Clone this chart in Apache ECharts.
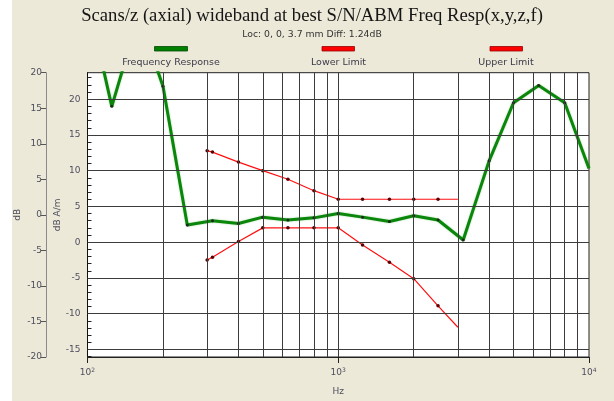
<!DOCTYPE html>
<html>
<head>
<meta charset="utf-8">
<script src="https://cdn.jsdelivr.net/npm/echarts@6/dist/echarts.min.js"></script>
<style>
  html, body { margin: 0; padding: 0; background: #ffffff; }
  #chart { width: 614px; height: 401px; }
</style>
</head>
<body>
<div id="chart"></div>
<script>
// frequency response (dB A/m)
var respFreqs = [100, 125, 160, 200, 250, 315, 400, 500, 630, 800, 1000, 1250, 1600, 2000, 2500, 3150, 4000, 5000, 6300, 8000, 10000];
var respValues = [34, 19.0, 31.7, 21.8, 2.4, 3.0, 2.6, 3.5, 3.1, 3.4, 4.0, 3.5, 2.9, 3.7, 3.1, 0.3, 11.4, 19.5, 21.9, 19.5, 10.3];

// limit curves
var limitFreqs = [300, 315, 400, 500, 630, 800, 1000, 1250, 1600, 2000, 2500, 3000];
var upperValues = [12.8, 12.6, 11.2, 10.0, 8.8, 7.2, 6, 6, 6, 6, 6, 6];
var lowerValues = [-2.5, -2.1, 0.1, 2, 2, 2, 2, -0.4, -2.8, -5.1, -8.9, -11.9];

// axis ticks / grid
var innerLabels = [-15, -10, -5, 0, 5, 10, 15, 20];
var innerMinor = [-16, -15, -14, -13, -12, -11, -10, -9, -8, -7, -6, -5, -4, -3, -2, -1, 0,
  1, 2, 3, 4, 5, 6, 7, 8, 9, 10, 11, 12, 13, 14, 15, 16, 17, 18, 19, 20, 21, 22, 23];
var freqGrid = [200, 300, 400, 500, 600, 700, 800, 900, 1000, 2000, 3000, 4000, 5000, 6000, 7000, 8000, 9000];

var pairs = function (xs, ys, lastNoDot) {
  var res = [];
  for (var i = 0; i < xs.length; i++) {
    var item = { value: [xs[i], ys[i]] };
    if (lastNoDot && i === xs.length - 1) item.symbol = 'none';
    res.push(item);
  }
  return res;
};

var gridColor = '#3c3c3c';
var labelColor = '#4e4e5e';
var font = 'DejaVu Sans';

var chart = echarts.init(document.getElementById('chart'));
var option = {
  backgroundColor: '#ffffff',
  animation: false,
  title: {
    text: 'Scans/z (axial) wideband at best S/N/ABM Freq Resp(x,y,z,f)',
    subtext: 'Loc: 0, 0, 3.7 mm Diff: 1.24dB',
    left: 307,
    textAlign: 'center',
    top: 2,
    itemGap: 4,
    textStyle: { fontFamily: 'Liberation Serif', fontSize: 18.7, fontWeight: 'normal', color: '#151515' },
    subtextStyle: { fontFamily: font, fontSize: 9.3, color: '#333' }
  },
  graphic: [
    { type: 'rect', z: -10, shape: { x: 12, y: 0, width: 602, height: 401 }, style: { fill: '#ece9d8' } },
    { type: 'rect', shape: { x: 154.5, y: 46.5, width: 33, height: 4.5 }, style: { fill: '#008000', stroke: '#004a00', lineWidth: 0.8 } },
    { type: 'text', x: 171, y: 62.5, style: { text: 'Frequency Response', fontFamily: font, fontSize: 9.5, fill: '#3a3a4a', align: 'center', verticalAlign: 'middle' } },
    { type: 'rect', shape: { x: 322, y: 46.5, width: 32.5, height: 4.5 }, style: { fill: '#ff0000', stroke: '#9a0000', lineWidth: 0.8 } },
    { type: 'text', x: 338.5, y: 62.5, style: { text: 'Lower Limit', fontFamily: font, fontSize: 9.5, fill: '#3a3a4a', align: 'center', verticalAlign: 'middle' } },
    { type: 'rect', shape: { x: 490, y: 46.5, width: 32.5, height: 4.5 }, style: { fill: '#ff0000', stroke: '#9a0000', lineWidth: 0.8 } },
    { type: 'text', x: 506, y: 62.5, style: { text: 'Upper Limit', fontFamily: font, fontSize: 9.5, fill: '#3a3a4a', align: 'center', verticalAlign: 'middle' } }
  ],
  grid: {
    left: 87.5, right: 25, top: 72.7, bottom: 33.7,
    show: true, backgroundColor: '#ffffff', borderColor: '#222', borderWidth: 1
  },
  xAxis: {
    type: 'log', logBase: 10, min: 100, max: 10000,
    name: 'Hz', nameLocation: 'middle', nameGap: 30, nameMoveOverlap: false,
    nameTextStyle: { fontFamily: font, fontSize: 9, color: labelColor },
    axisLine: { show: true, onZero: false, lineStyle: { color: '#222', width: 1 } },
    axisTick: { show: true, length: 6, lineStyle: { color: '#222' } },
    splitLine: { show: false },
    axisLabel: {
      margin: 10,
      formatter: function (v) { return '10{s|' + Math.round(Math.log10(v)) + '}'; },
      fontFamily: font, fontSize: 9, color: labelColor,
      rich: { s: { fontFamily: font, fontSize: 6, color: labelColor, verticalAlign: 'top', padding: [0, 0, 5, 0] } }
    }
  },
  yAxis: [{
    type: 'value', min: -16.06, max: 23.7,
    position: 'left',
    name: 'dB A/m', nameLocation: 'middle', nameGap: 25, nameMoveOverlap: false,
    nameTextStyle: { fontFamily: font, fontSize: 9, color: labelColor },
    axisLine: { show: true, onZero: false, lineStyle: { color: '#111', width: 1 } },
    axisTick: { show: true, inside: true, length: 4, customValues: innerMinor, lineStyle: { color: '#222' } },
    axisLabel: { customValues: innerLabels, margin: 7, fontFamily: font, fontSize: 9, color: labelColor },
    splitLine: { show: false }
  }, {
    type: 'value', min: -20, max: 20, interval: 5,
    position: 'left', offset: 41.5,
    name: 'dB', nameLocation: 'middle', nameGap: 24, nameMoveOverlap: false,
    nameTextStyle: { fontFamily: font, fontSize: 9, color: labelColor },
    axisLine: { show: true, onZero: false, lineStyle: { color: '#8a8a8a', width: 1 } },
    axisTick: { show: true, length: 5, lineStyle: { color: '#555' } },
    axisLabel: { margin: 4, fontFamily: font, fontSize: 9, color: labelColor },
    splitLine: { show: false }
  }],
  series: [{
    name: 'grid',
    type: 'line',
    data: [],
    z: 1,
    silent: true,
    markLine: {
      silent: true,
      symbol: ['none', 'none'],
      symbolSize: 0,
      label: { show: false },
      emphasis: { disabled: true },
      lineStyle: { type: 'solid', color: gridColor, width: 1 },
      data: freqGrid.map(function (f) { return { xAxis: f }; })
        .concat(innerLabels.map(function (v) { return { yAxis: v }; }))
    }
  }, {
    name: 'Frequency Response',
    type: 'line',
    z: 4,
    data: pairs(respFreqs, respValues, true),
    symbol: 'circle', symbolSize: 3,
    itemStyle: { color: '#1c2a1c' },
    lineStyle: { color: '#0a860a', width: 3, shadowColor: 'rgba(0,140,0,0.35)', shadowBlur: 2 }
  }, {
    name: 'Lower Limit',
    type: 'line',
    z: 3,
    data: pairs(limitFreqs, lowerValues, true),
    symbol: 'circle', symbolSize: 3.5,
    itemStyle: { color: '#5a0000' },
    lineStyle: { color: '#ff1010', width: 1.2 }
  }, {
    name: 'Upper Limit',
    type: 'line',
    z: 3,
    data: pairs(limitFreqs, upperValues, true),
    symbol: 'circle', symbolSize: 3.5,
    itemStyle: { color: '#5a0000' },
    lineStyle: { color: '#ff1010', width: 1.2 }
  }]
};
chart.setOption(option);
</script>
</body>
</html>
